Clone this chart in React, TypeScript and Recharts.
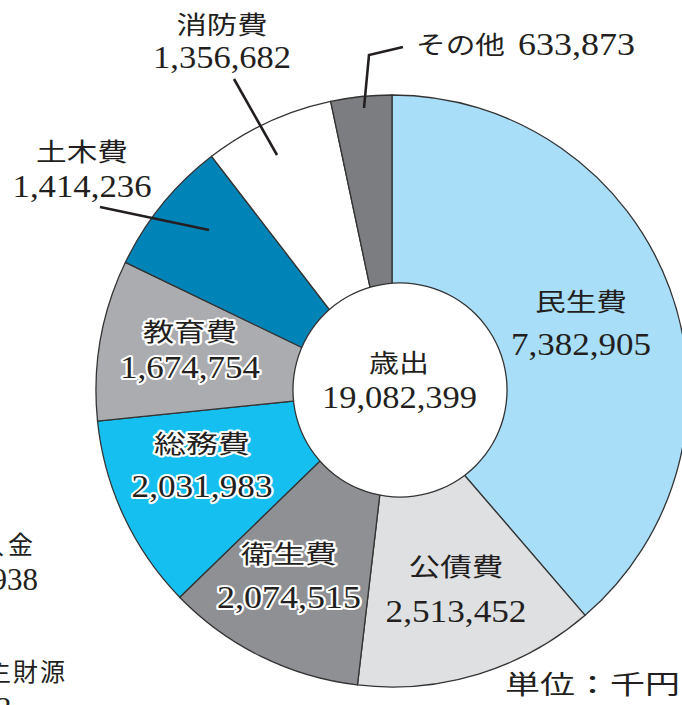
import React from 'react';
import { PieChart, Pie, Cell } from 'recharts';

const categories = ['民生費', '公債費', '衛生費', '総務費', '教育費', '土木費', '消防費', 'その他'];
const values = [7382905, 2513452, 2074515, 2031983, 1674754, 1414236, 1356682, 633873];
const colors = ['#a9def8', '#dfe0e2', '#8f9094', '#15c0f0', '#abacb0', '#0083b6', '#ffffff', '#7b7d81'];
const totalLabel = '歳出';
const totalValue = 19082399;
const unitLabel = '単位：千円';
const sideTexts = ['繰入金', '938', '自主財源', '3'];

const data = categories.map((name, i) => ({ name, value: values[i] }));
const centerData = [{ name: totalLabel, value: totalValue }];

const JP = "'Noto Sans CJK JP', 'Noto Sans', sans-serif";
const NUM = "'Liberation Serif', 'Times New Roman', 'DejaVu Serif', serif";
const INK = '#231f20';

// label layout: center x, baseline of name, width of name, baseline of number, width of number
const layout: Record<string, any> = {
  '民生費': { cx: 581, jy: 311, jw: 92, ny: 355, nw: 140, halo: false },
  '公債費': { cx: 456, jy: 576, jw: 95, ny: 622, nw: 141, halo: false },
  '衛生費': { cx: 289, jy: 563, jw: 96, ny: 608, nw: 144, halo: true },
  '総務費': { cx: 202, jy: 453, jw: 96, ny: 497, nw: 141, halo: true },
  '教育費': { cx: 190, jy: 341, jw: 94, ny: 378, nw: 140, halo: true },
  '土木費': { cx: 82, jy: 161, jw: 92, ny: 197, nw: 139, halo: false },
  '消防費': { cx: 222, jy: 34, jw: 91, ny: 68, nw: 138, halo: false },
};

const fmt = (v: number) => v.toLocaleString('en-US');

const jpStyle: React.CSSProperties = { fontFamily: JP };
const numStyle: React.CSSProperties = { fontFamily: NUM, fontWeight: 400 };

const haloProps = (halo: boolean) =>
  halo
    ? { stroke: '#ffffff', strokeWidth: 4, paintOrder: 'stroke' as any, strokeLinejoin: 'round' as any }
    : {};

const renderLabel = (props: any) => {
  const name: string = props.name ?? props.payload?.name;
  const value: number = props.value ?? props.payload?.value;
  if (name === 'その他') {
    return (
      <g key={name}>
        <text x={416} y={54} style={jpStyle} fontSize={25} fill={INK} textLength={89} lengthAdjust="spacingAndGlyphs">
          {name}
        </text>
        <text x={518} y={55} style={numStyle} fontSize={31} fill={INK} textLength={117} lengthAdjust="spacingAndGlyphs">
          {fmt(value)}
        </text>
      </g>
    );
  }
  const l = layout[name];
  if (!l) return null;
  return (
    <g key={name}>
      <text
        x={l.cx - l.jw / 2}
        y={l.jy}
        style={jpStyle}
        fontSize={25}
        fill={INK}
        textLength={l.jw}
        lengthAdjust="spacingAndGlyphs"
        {...haloProps(l.halo)}
      >
        {name}
      </text>
      <text
        x={l.cx - l.nw / 2}
        y={l.ny}
        style={numStyle}
        fontSize={31}
        fill={INK}
        textLength={l.nw}
        lengthAdjust="spacingAndGlyphs"
        {...haloProps(l.halo)}
      >
        {fmt(value)}
      </text>
    </g>
  );
};

const renderCenter = (props: any) => {
  const name: string = props.name ?? props.payload?.name;
  const value: number = props.value ?? props.payload?.value;
  return (
    <g key="center">
      <text x={369} y={372} style={jpStyle} fontSize={25} fill={INK} textLength={60} lengthAdjust="spacingAndGlyphs">
        {name}
      </text>
      <text x={322} y={408} style={numStyle} fontSize={31} fill={INK} textLength={155} lengthAdjust="spacingAndGlyphs">
        {fmt(value)}
      </text>
    </g>
  );
};

export default function App() {
  return (
    <div style={{ position: 'absolute', left: 0, top: 0, width: 682, height: 705, background: '#ffffff', overflow: 'hidden' }}>
      <PieChart width={682} height={705} margin={{ top: 0, right: 0, bottom: 0, left: 0 }}>
        <Pie
          data={data}
          dataKey="value"
          nameKey="name"
          cx={392}
          cy={391}
          outerRadius={296}
          innerRadius={0}
          startAngle={90}
          endAngle={-270}
          stroke="#333333"
          strokeWidth={1.3}
          isAnimationActive={false}
          label={renderLabel}
          labelLine={false}
        >
          {data.map((d, i) => (
            <Cell key={d.name} fill={colors[i]} />
          ))}
        </Pie>
        <Pie
          data={centerData}
          dataKey="value"
          nameKey="name"
          cx={400}
          cy={390}
          outerRadius={107}
          innerRadius={0}
          startAngle={90}
          endAngle={-270}
          fill="#ffffff"
          stroke="none"
          isAnimationActive={false}
          label={renderCenter}
          labelLine={false}
        />
        <Pie
          data={centerData}
          dataKey="value"
          nameKey="name"
          cx={400}
          cy={390}
          outerRadius={107.7}
          innerRadius={106.4}
          startAngle={90}
          endAngle={-270}
          fill="#333333"
          stroke="none"
          isAnimationActive={false}
        />
      </PieChart>
      <svg
        width={682}
        height={705}
        style={{ position: 'absolute', left: 0, top: 0, pointerEvents: 'none' }}
      >
        <g stroke="#231f20" strokeWidth={2.6} fill="none" strokeLinecap="butt">
          <line x1={234} y1={79} x2={277} y2={155} />
          <line x1={100} y1={207} x2={209} y2={230} />
          <polyline points="403,47 369,55 364,108" />
        </g>
        <text x={505} y={694} style={jpStyle} fontSize={26} fill={INK} textLength={175} lengthAdjust="spacingAndGlyphs">
          {unitLabel}
        </text>
        <text x={37} y={554} textAnchor="end" style={jpStyle} fontSize={25} fill={INK} letterSpacing={4}>
          {sideTexts[0]}
        </text>
        <text x={38} y={590} textAnchor="end" style={numStyle} fontSize={31} fill={INK}>
          {sideTexts[1]}
        </text>
        <text x={67} y={681} textAnchor="end" style={jpStyle} fontSize={25} fill={INK} letterSpacing={2}>
          {sideTexts[2]}
        </text>
        <text x={-4} y={719} style={numStyle} fontSize={31} fill={INK}>
          {sideTexts[3]}
        </text>
      </svg>
    </div>
  );
}
